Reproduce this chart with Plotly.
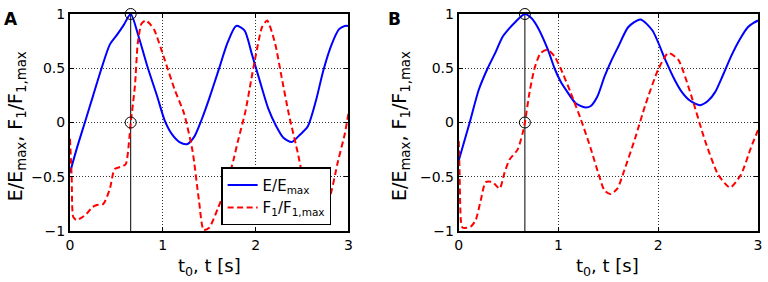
import plotly.graph_objects as go

# ---------------- data ----------------
t_mark_A = 0.654
t_mark_B = 0.663

tA_E = [0, 0.08, 0.16, 0.25, 0.34, 0.43, 0.5, 0.58, 0.654, 0.74, 0.84, 0.94, 1.02, 1.1, 1.18, 1.26,
        1.34, 1.42, 1.5, 1.6, 1.7, 1.79, 1.88, 1.96, 2.05, 2.14, 2.22, 2.3, 2.39, 2.47, 2.56, 2.65,
        2.73, 2.82, 2.9, 2.96, 3.0]
yA_E = [-0.46, -0.22, 0.0, 0.25, 0.5, 0.72, 0.8, 0.9, 1.0, 0.79, 0.5, 0.24, 0.02, -0.11, -0.18, -0.2,
        -0.13, 0.03, 0.22, 0.48, 0.74, 0.89, 0.85, 0.63, 0.37, 0.12, -0.03, -0.14, -0.18, -0.12, -0.04, 0.2,
        0.48, 0.72, 0.86, 0.89, 0.89]

tA_F = [0, 0.018, 0.035, 0.07, 0.12, 0.18, 0.24, 0.29, 0.36, 0.43, 0.48, 0.54, 0.6, 0.64, 0.654,
        0.66, 0.70, 0.73, 0.77, 0.815, 0.86, 0.91, 1.02, 1.125, 1.23, 1.32, 1.39, 1.44, 1.5, 1.59,
        1.68, 1.76, 1.81, 1.89, 1.95, 2.0, 2.07, 2.125, 2.21, 2.28, 2.36, 2.46, 2.54, 2.62, 2.7,
        2.79, 2.89, 2.96, 3.0]
yA_F = [-0.15, -0.5, -0.87, -0.9, -0.88, -0.84, -0.78, -0.76, -0.75, -0.61, -0.43, -0.41, -0.385, -0.14, 0.0,
        0.04, 0.34, 0.73, 0.91, 0.94, 0.91, 0.85, 0.58, 0.31, 0.08, -0.26, -0.72, -0.99, -0.97, -0.8,
        -0.6, -0.35, -0.17, 0.1, 0.38, 0.61, 0.88, 0.94, 0.73, 0.42, 0.07, -0.3, -0.65, -0.93, -0.85,
        -0.72, -0.35, -0.11, 0.08]

tB_E = [0, 0.11, 0.2, 0.29, 0.36, 0.44, 0.5, 0.56, 0.663, 0.73, 0.79, 0.89, 0.96, 1.02, 1.09, 1.17,
        1.26, 1.32, 1.39, 1.46, 1.53, 1.6, 1.7, 1.82, 1.94, 2.07, 2.15, 2.23, 2.32, 2.42, 2.5, 2.57,
        2.65, 2.73, 2.82, 2.9, 2.96, 3.0]
yB_E = [-0.35, 0.0, 0.3, 0.5, 0.63, 0.79, 0.86, 0.92, 1.0, 0.96, 0.88, 0.68, 0.5, 0.38, 0.28, 0.18,
        0.14, 0.15, 0.24, 0.42, 0.57, 0.7, 0.88, 0.95, 0.85, 0.58, 0.42, 0.29, 0.2, 0.16, 0.2, 0.28,
        0.44, 0.61, 0.77, 0.88, 0.92, 0.94]

tB_F = [0, 0.007, 0.023, 0.04, 0.12, 0.17, 0.22, 0.27, 0.34, 0.41, 0.46, 0.51, 0.59, 0.64, 0.663,
        0.71, 0.76, 0.82, 0.89, 0.96, 1.04, 1.12, 1.22, 1.32, 1.41, 1.46, 1.52, 1.59, 1.66, 1.77,
        1.87, 2.0, 2.1, 2.2, 2.33, 2.47, 2.6, 2.72, 2.83, 2.93, 3.0]
yB_F = [-0.17, -0.4, -0.92, -0.97, -0.96, -0.9, -0.72, -0.55, -0.55, -0.61, -0.46, -0.34, -0.25, -0.1, 0.0,
        0.28, 0.5, 0.64, 0.67, 0.61, 0.46, 0.28, 0.04, -0.23, -0.5, -0.625, -0.66, -0.61, -0.44, -0.14,
        0.16, 0.49, 0.64, 0.58, 0.25, -0.17, -0.48, -0.6, -0.48, -0.23, -0.07]

x_ticks = [0, 1, 2, 3]
y_ticks = [-1, -0.5, 0, 0.5, 1]
y_tick_text = ["\u22121", "\u22120.5", "0", "0.5", "1"]

name_E = "E/E<sub>max</sub>"
name_F = "F<sub>1</sub>/F<sub>1,max</sub>"
y_title = "E/E<sub>max</sub>, F<sub>1</sub>/F<sub>1,max</sub>"
x_title = "t<sub>0</sub>, t [s]"

BLUE = "#0000ff"
RED = "#ff0000"
FONT = "DejaVu Sans, Liberation Sans, Arial, sans-serif"

fig = go.Figure()

panels = [
    ("x", "y", tA_E, yA_E, tA_F, yA_F, t_mark_A, True),
    ("x2", "y2", tB_E, yB_E, tB_F, yB_F, t_mark_B, False),
]
for xa, ya, tE, yE, tF, yF, tm, leg in panels:
    fig.add_trace(go.Scatter(x=[tm, tm], y=[-1, 1], mode="lines", xaxis=xa, yaxis=ya,
                             line=dict(color="black", width=1), showlegend=False, hoverinfo="skip"))
    fig.add_trace(go.Scatter(x=tE, y=yE, mode="lines", name=name_E, xaxis=xa, yaxis=ya,
                             line=dict(color=BLUE, width=2, shape="spline", smoothing=0.7),
                             showlegend=leg))
    fig.add_trace(go.Scatter(x=tF, y=yF, mode="lines", name=name_F, xaxis=xa, yaxis=ya,
                             line=dict(color=RED, width=2, dash="6px,3.5px", shape="spline", smoothing=0.6),
                             showlegend=leg))
    fig.add_trace(go.Scatter(x=[tm, tm], y=[1, 0], mode="markers", xaxis=xa, yaxis=ya,
                             marker=dict(symbol="circle-open", size=11, color="black",
                                         line=dict(width=1, color="black")),
                             cliponaxis=False, showlegend=False, hoverinfo="skip"))

axis_common = dict(
    showline=True, linecolor="black", linewidth=2, mirror="ticks",
    ticks="inside", ticklen=4, tickwidth=1, tickcolor="black",
    showgrid=True, gridcolor="rgba(0,0,0,0.8)", gridwidth=1, griddash="1px,2px",
    zeroline=False, tickfont=dict(family=FONT, size=14, color="black"),
)

L, R, T, B = 70, 6, 10, 51
W, H = 768, 282
pw = W - L - R
ph = H - T - B

def px2x(p):
    return (p - L) / pw

def py2y(p):
    return (H - B - p) / ph

fig.update_layout(
    width=W, height=H,
    margin=dict(l=L, r=R, t=T, b=B),
    paper_bgcolor="white", plot_bgcolor="white",
    font=dict(family=FONT, size=15, color="black"),
    xaxis=dict(domain=[0, px2x(350)], range=[0, 3], tickvals=x_ticks, anchor="y", **axis_common),
    yaxis=dict(domain=[0, 1], range=[-1, 1], tickvals=y_ticks, ticktext=y_tick_text, anchor="x", **axis_common),
    xaxis2=dict(domain=[px2x(461), 1], range=[0, 3], tickvals=x_ticks, anchor="y2", **axis_common),
    yaxis2=dict(domain=[0, 1], range=[-1, 1], tickvals=y_ticks, ticktext=y_tick_text, anchor="x2", **axis_common),
    legend=dict(x=px2x(222), y=py2y(166), xanchor="left", yanchor="top",
                bgcolor="white", bordercolor="black", borderwidth=1.5,
                font=dict(family=FONT, size=15, color="black"),
                tracegroupgap=0, itemwidth=30),
    showlegend=True,
)

annotations = [
    dict(text="<b>A</b>", x=px2x(2), y=py2y(3), xanchor="left", yanchor="top", size=17),
    dict(text="<b>B</b>", x=px2x(388), y=py2y(3), xanchor="left", yanchor="top", size=17),
    dict(text=y_title, x=px2x(17), y=py2y(124), xanchor="center", yanchor="middle", textangle=-90, size=19),
    dict(text=y_title, x=px2x(403), y=py2y(124), xanchor="center", yanchor="middle", textangle=-90, size=19),
    dict(text=x_title, x=px2x(210), y=py2y(253), xanchor="center", yanchor="top", size=18),
    dict(text=x_title, x=px2x(611), y=py2y(253), xanchor="center", yanchor="top", size=18),
]
for a in annotations:
    s = a.pop("size")
    a.update(xref="paper", yref="paper", showarrow=False,
             font=dict(family=FONT, size=s, color="black"))
fig.update_layout(annotations=annotations)

fig.write_html("out.html",
               config={"displayModeBar": False},
               post_script="document.body.style.margin='0';document.body.style.overflow='hidden';")
